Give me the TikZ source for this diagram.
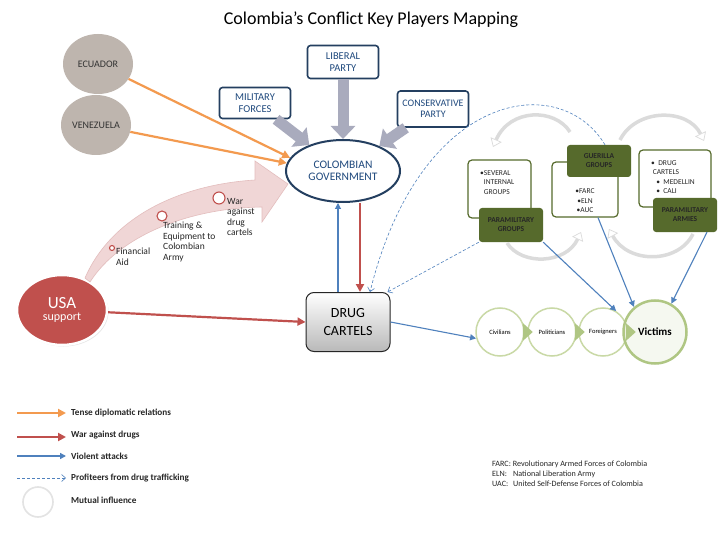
\documentclass[tikz,border=0pt]{standalone}
\usepackage{fontspec}
\setmainfont{Carlito}
\usetikzlibrary{shapes.geometric,arrows.meta,positioning,shadows}
\definecolor{NavyLine}{HTML}{243F60}
\definecolor{NavyText}{HTML}{1F497D}
\definecolor{TenseOrange}{HTML}{F39A4F}
\definecolor{WarRed}{HTML}{C0504D}
\definecolor{AttackBlue}{HTML}{4F81BD}
\definecolor{PartyGray}{HTML}{A9ABBD}
\definecolor{Olive}{HTML}{566A2C}
\definecolor{PaleGreen}{HTML}{C9D9A6}
\definecolor{VictimRing}{HTML}{AFC683}
\definecolor{StoneGray}{HTML}{BEB5AE}
\definecolor{PinkFill}{HTML}{F0D6D6}
\definecolor{PinkLine}{HTML}{E3BDBD}

\begin{document}
\begin{tikzpicture}[x=1pt, y=-1pt,
  party/.style={rectangle, draw=NavyLine, line width=1.6pt, rounded corners=3pt, fill=white, text=NavyText, align=center, font=\fontsize{10.5}{12}\selectfont, minimum width=71pt, inner sep=1pt},
  neighbour/.style={ellipse, fill=StoneGray, minimum width=70pt, minimum height=60pt, inner sep=0pt, font=\fontsize{10}{11}\selectfont, text=black!80},
  itembox/.style={rectangle, draw=Olive, line width=1.2pt, rounded corners=4pt, fill=white},
  itemtext/.style={align=left, font=\fontsize{7.5}{9.5}\selectfont, inner sep=0pt, text=black!85},
  groupbox/.style={rectangle, fill=Olive, rounded corners=3pt, minimum width=64pt, align=center, font=\bfseries\fontsize{7.5}{9}\selectfont, text=black!85, inner sep=1pt},
  victim/.style={circle, draw=PaleGreen, line width=1.5pt, fill=white, minimum size=48pt, inner sep=0pt, font=\fontsize{6.5}{7}\selectfont},
  chevron/.style={fill=VictimRing},
  tense/.style={-{Triangle[length=8pt,width=8pt]}, line width=2.2pt, TenseOrange},
  war/.style={-{Triangle[length=8pt,width=8pt]}, line width=2.2pt, WarRed},
  attack/.style={-{Triangle[length=6pt,width=6pt]}, line width=1.1pt, AttackBlue},
  profit/.style={-{Straight Barb[length=4pt,width=7pt]}, line width=0.6pt, AttackBlue, dash pattern=on 3pt off 2pt},
  backing/.style={-{Triangle[length=13pt,width=24pt]}, line width=11pt, PartyGray},
  mutual/.style={-{Triangle[length=8pt,width=12pt,fill=white,line width=0.7pt]}, line width=3.5pt, gray!28},
  aidlabel/.style={anchor=north west, align=left, inner sep=0pt, font=\fontsize{9.5}{10.5}\selectfont, text=black!85},
  legendtext/.style={anchor=west, inner sep=0pt, font=\bfseries\fontsize{9.2}{10}\selectfont, text=black!85},
  note/.style={anchor=north west, align=left, inner sep=0pt, font=\fontsize{8.1}{10}\selectfont, text=black!85}
]
  \useasboundingbox[fill=white] (0,0) rectangle (720,540);

  \node[font=\fontsize{18}{21}\selectfont] (title) at (371,20) {Colombia’s Conflict Key Players Mapping};

  % government and parties
  \node[ellipse, draw=NavyLine, line width=2pt, fill=white, minimum width=114pt, minimum height=62pt, inner sep=0pt, align=center, text=NavyText, font=\fontsize{11.5}{12}\selectfont] (gov) at (343,171) {COLOMBIAN\\GOVERNMENT};
  \node[party, minimum height=33pt] (liberal) at (343,62) {LIBERAL\\PARTY};
  \node[party, minimum height=31pt] (military) at (255,103) {MILITARY\\FORCES};
  \node[party, minimum height=36pt, font=\fontsize{10}{11.5}\selectfont] (conservative) at (433,109) {CONSERVATIVE\\PARTY};
  \draw[backing] (military) -- (gov);
  \draw[backing] (liberal) -- (gov);
  \draw[backing] (conservative) -- (gov);

  % neighbours
  \node[neighbour] (ecuador) at (98,64) {ECUADOR};
  \node[neighbour] (venezuela) at (96,125) {VENEZUELA};
  \draw[tense] (ecuador) -- (gov.166);
  \draw[tense] (venezuela) -- (gov.172);

  % usa support
  \node[ellipse, fill=WarRed, draw=white, line width=2.5pt, drop shadow={opacity=0.2, shadow xshift=1.5pt, shadow yshift=-1.5pt}, minimum width=90pt, minimum height=70pt, align=center, text=white, inner sep=0pt] (usa) at (62,310) {\fontsize{17}{18}\selectfont USA\\\fontsize{12}{13}\selectfont support};
  \filldraw[fill=PinkFill, draw=PinkLine, line width=0.6pt] (85,278) .. controls (110,220) and (175,185) .. (255,180) -- (255,161) -- (288,184) -- (262,222) -- (262,207) .. controls (190,208) and (120,235) .. (90,282) -- cycle;
  \node[circle, draw=WarRed, fill=white, line width=1.1pt, minimum size=5pt, inner sep=0pt] (aid1) at (112,248) {};
  \node[circle, draw=WarRed, fill=white, line width=1.1pt, minimum size=10pt, inner sep=0pt] (aid2) at (162,216) {};
  \node[circle, draw=WarRed, fill=white, line width=1.1pt, minimum size=12pt, inner sep=0pt] (aid3) at (219,198) {};
  \node[aidlabel] (aidtext1) at (116,248) {Financial\\Aid};
  \node[aidlabel] (aidtext2) at (163,222) {Training \&\\Equipment to\\Colombian\\Army};
  \node[aidlabel] (aidtext3) at (227,198) {War\\against\\drug\\cartels};

  % drug cartels
  \node[rectangle, rounded corners=8pt, draw=black!85, line width=1pt, top color=white, bottom color=gray!55, minimum width=84pt, minimum height=59pt, align=center, font=\fontsize{14}{18}\selectfont] (cartels) at (348,322) {DRUG\\CARTELS};
  \draw[war] (usa) -- (cartels.west);
  \draw[attack] ([xshift=-10pt]cartels.north) -- ([xshift=-10pt]cartels.north |- gov.south);
  \draw[war] ([xshift=12pt]cartels.north |- gov.south) -- ([xshift=12pt]cartels.north);

  % armed groups
  \node[itembox, minimum width=63pt, minimum height=58pt] (internal) at (499.5,189) {};
  \node[itemtext, anchor=north west] (internaltext) at (480,170) {\textbullet SEVERAL\\\hphantom{\textbullet}INTERNAL\\\hphantom{\textbullet}GROUPS};
  \node[groupbox, minimum height=34pt] (paragroups) at (511,225) {PARAMILITARY\\GROUPS};
  \node[itembox, minimum width=66pt, minimum height=55pt] (guerillaitems) at (585,189.5) {};
  \node[itemtext, align=center] (guerillatext) at (585,201) {\textbullet FARC\\\textbullet ELN\\\textbullet AUC};
  \node[groupbox, minimum height=32pt] (guerilla) at (599,161) {GUERILLA\\GROUPS};
  \node[itembox, minimum width=72pt, minimum height=57pt] (drugitems) at (675,178.5) {};
  \node[itemtext, anchor=north west] (drugtext) at (651,160) {\textbullet\ \ DRUG\\\ CARTELS\\\ \ \ \textbullet\ \ MEDELLIN\\\ \ \ \textbullet\ \ CALI};
  \node[groupbox, minimum height=34pt] (paraarmies) at (685,215) {PARAMILITARY\\ARMIES};

  % mutual influence
  \coordinate (mi1a) at (570,132); \coordinate (mi1b) at (493,147);
  \coordinate (mi2a) at (507,243); \coordinate (mi2b) at (581,232);
  \coordinate (mi3a) at (620,140); \coordinate (mi3b) at (704,141);
  \coordinate (mi4a) at (693,234); \coordinate (mi4b) at (609,229);
  \draw[mutual] (mi1a) .. controls (555,108) and (510,108) .. (mi1b);
  \draw[mutual] (mi2a) .. controls (522,266) and (566,264) .. (mi2b);
  \draw[mutual] (mi3a) .. controls (636,108) and (688,108) .. (mi3b);
  \draw[mutual] (mi4a) .. controls (678,264) and (628,264) .. (mi4b);

  % victims
  \node[victim] (civilians) at (500,332) {Civilians};
  \node[victim] (politicians) at (552,332) {Politicians};
  \node[victim] (foreigners) at (603,332) {Foreigners};
  \node[circle, draw=VictimRing, line width=2.5pt, fill=VictimRing!12, minimum size=63pt, inner sep=0pt, font=\bfseries\fontsize{11}{12}\selectfont] (victims) at (655,332) {Victims};
  \foreach \v in {civilians, politicians, foreigners}
    \fill[chevron] ([shift={(-2,-9)}]\v.east) -- ([shift={(8,0)}]\v.east) -- ([shift={(-2,9)}]\v.east) -- cycle;

  \draw[attack] (cartels.east) -- (civilians.195);
  \draw[attack] (paragroups.south east) -- (foreigners.58);
  \draw[attack] ([xshift=13pt]guerillaitems.south) -- (victims.130);
  \draw[attack] ([xshift=22pt]paraarmies.south) -- (victims.60);

  % profiteers
  \draw[profit] ([xshift=6pt]guerilla.north) .. controls (560,70) and (420,90) .. ([xshift=22pt]cartels.north);
  \draw[profit] (paragroups.south west) -- ([xshift=-3pt]cartels.north east);

  % legend
  \node[legendtext] (lgtense) at (71,413) {Tense diplomatic relations};
  \node[legendtext] (lgwar) at (71,435) {War against drugs};
  \node[legendtext] (lgattack) at (71,456) {Violent attacks};
  \node[legendtext] (lgprofit) at (71,478) {Profiteers from drug trafficking};
  \node[legendtext] (lgmutual) at (71,500) {Mutual influence};
  \draw[tense, line width=2.6pt] ([xshift=-54pt]lgtense.west) -- ([xshift=-5pt]lgtense.west);
  \draw[war, line width=2.6pt] ([shift={(-54pt,-2pt)}]lgwar.west) -- ([shift={(-5pt,-2pt)}]lgwar.west);
  \draw[attack, line width=1.6pt] ([xshift=-54pt]lgattack.west) -- ([xshift=-5pt]lgattack.west);
  \draw[profit] ([xshift=-54pt]lgprofit.west) -- ([xshift=-5pt]lgprofit.west);
  \node[circle, draw=gray!22, line width=1.6pt, minimum size=30pt, inner sep=0pt] (lgcycle) at (38,502) {};

  % abbreviations
  \node[note] (abbrev) at (492,461) {FARC: Revolutionary Armed Forces of Colombia\\\makebox[21pt][l]{ELN:}National Liberation Army\\\makebox[21pt][l]{UAC:}United Self-Defense Forces of Colombia};
\end{tikzpicture}
\end{document}
